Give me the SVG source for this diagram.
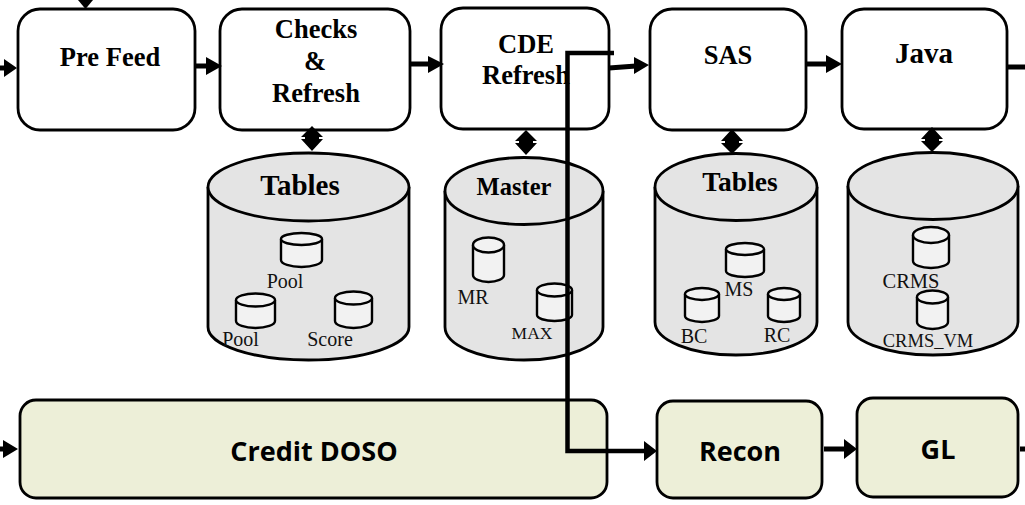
<svg xmlns="http://www.w3.org/2000/svg" width="1025" height="505" viewBox="0 0 1025 505">
<style>
.box{fill:#fff;stroke:#000;stroke-width:2.8}
.gbox{fill:#edefd8;stroke:#000;stroke-width:2.8}
.cyl{fill:#e4e4e4;stroke:#000;stroke-width:2.8}
.sm{fill:#f2f2f2;stroke:#000;stroke-width:2.4}
.c{fill:none;stroke:#000;stroke-width:5}
.v{fill:none;stroke:#000;stroke-width:4.500}
.t{font-family:"Liberation Serif",serif;font-weight:700;font-size:26.500px;text-anchor:middle;fill:#000}
.s{font-family:"Liberation Serif",serif;font-size:20px;text-anchor:middle;fill:#111}
.g{font-family:"Open Sans",sans-serif;font-weight:700;font-size:27px;text-anchor:middle;fill:#000}
.h{fill:#000}
</style>
<g id="pre-feed"><rect class="box" x="18" y="9" width="177" height="121" rx="22"/><text class="t" x="110" y="66">Pre Feed</text></g>
<g id="checks"><rect class="box" x="220" y="9" width="190" height="121" rx="22"/><text class="t" x="316" y="38">Checks</text><text class="t" x="315" y="70">&amp;</text><text class="t" x="316" y="102">Refresh</text></g>
<g id="cde"><rect class="box" x="441" y="8" width="168" height="121" rx="22"/><text class="t" x="526" y="53">CDE</text><text class="t" x="526" y="84">Refresh</text></g>
<g id="sas"><rect class="box" x="650" y="9" width="156" height="121" rx="22"/><text class="t" x="728" y="64">SAS</text></g>
<g id="java"><rect class="box" x="842" y="9" width="165" height="120" rx="22"/><text class="t" x="924" y="63" style="font-size:29px">Java</text></g>
<g id="db-tables1"><path class="cyl" d="M208 187V327A100.500 33 0 0 0 409 327V187"/><ellipse class="cyl" cx="308.500" cy="187" rx="100.500" ry="34"/><text class="t" x="300" y="195" style="font-size:29px">Tables</text>
<path class="sm" d="M281 239V260A20.500 7 0 0 0 322 260V239"/><ellipse class="sm" cx="301.500" cy="239" rx="20.500" ry="6"/><text class="s" x="285" y="288">Pool</text>
<path class="sm" d="M236 300V321A19.500 7 0 0 0 275 321V300"/><ellipse class="sm" cx="255.500" cy="300" rx="19.500" ry="6.500"/><text class="s" x="240.500" y="346">Pool</text>
<path class="sm" d="M335 298V321A18.500 7 0 0 0 372 321V298"/><ellipse class="sm" cx="353.500" cy="298" rx="18.500" ry="6.500"/><text class="s" x="330" y="346">Score</text></g>
<g id="db-master"><path class="cyl" d="M445 191V327A79 33 0 0 0 603 327V191"/><ellipse class="cyl" cx="524" cy="191" rx="79" ry="33.500"/><text class="t" x="514" y="195" style="font-size:24.500px">Master</text>
<path class="sm" d="M473 245V275A15.500 7 0 0 0 504 275V245"/><ellipse class="sm" cx="488.500" cy="245" rx="15.500" ry="7.500"/><text class="s" x="473" y="304">MR</text>
<path class="sm" d="M537 290V315A17.500 6 0 0 0 572 315V290"/><ellipse class="sm" cx="554.500" cy="290" rx="17.500" ry="6.500"/><text class="s" x="532" y="339" style="font-size:17.500px">MAX</text></g>
<g id="db-tables2"><path class="cyl" d="M655 187V322A81 33 0 0 0 817 322V187"/><ellipse class="cyl" cx="736" cy="187" rx="81" ry="33.500"/><text class="t" x="740" y="191" style="font-size:27.500px">Tables</text>
<path class="sm" d="M726 249V271A19 6 0 0 0 764 271V249"/><ellipse class="sm" cx="745" cy="249" rx="19" ry="6"/><text class="s" x="739" y="296">MS</text>
<path class="sm" d="M685 294V316A17 6 0 0 0 719 316V294"/><ellipse class="sm" cx="702" cy="294" rx="17" ry="6"/><text class="s" x="694" y="343">BC</text>
<path class="sm" d="M768 294V316A16 6 0 0 0 800 316V294"/><ellipse class="sm" cx="784" cy="294" rx="16" ry="6"/><text class="s" x="777" y="342">RC</text></g>
<g id="db-java"><path class="cyl" d="M848 186V322A85 33 0 0 0 1018 322V186"/><ellipse class="cyl" cx="933" cy="186" rx="85" ry="33.500"/>
<path class="sm" d="M913 235V261A18 7 0 0 0 949 261V235"/><ellipse class="sm" cx="931" cy="235" rx="18" ry="8"/><text class="s" x="911" y="288" style="font-size:20.500px">CRMS</text>
<path class="sm" d="M917 297V322A15.500 7 0 0 0 948 322V297"/><ellipse class="sm" cx="932.500" cy="297" rx="15.500" ry="6.500"/><text class="s" x="928" y="347" style="font-size:18.500px">CRMS_VM</text></g>
<g id="credit-doso"><rect class="gbox" x="20" y="400" width="587" height="98" rx="16"/><text class="g" x="314" y="461">Credit DOSO</text></g>
<g id="recon"><rect class="gbox" x="657" y="401" width="165" height="97" rx="16"/><text class="g" x="740" y="461">Recon</text></g>
<g id="gl"><rect class="gbox" x="857" y="398" width="161" height="99" rx="16"/><text class="g" x="938" y="459">GL</text></g>
<g id="connectors">
<path class="h" d="M78 0H93L85.500 9Z"/>
<path class="c" d="M0 68H6M196 66H208M410 64H430M609 68L636 66M807 64H828M1008 67H1025M0 449H6M824 449H846M1020 449H1025"/>
<path class="h" d="M4 59L17 68L4 77ZM206 57L222 66L206 75ZM428 56L444 64L428 73ZM634 57L649 65L634 74ZM826 55L842 64L826 73ZM3 440L18 449L3 458ZM644 441L657 451L644 461ZM844 439L857 449L844 459Z"/>
<path class="v" d="M614 53H567.500V451H646"/>
<path class="h" d="M312 126L323 137H319V139H323L312 151L301 139H305V137H301ZM526 130L537 141H533V143H537L526 155L515 143H519V141H515ZM732 129L743 141H739V143H743L732 154L721 143H725V141H721ZM932 127L943 139H939V141H943L932 152L921 141H925V139H921Z"/>
</g>
</svg>
